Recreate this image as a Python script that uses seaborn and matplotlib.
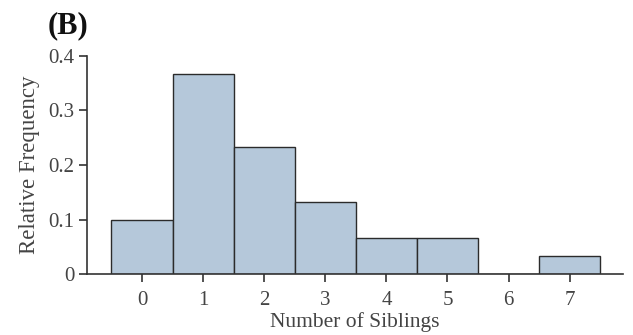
import matplotlib
matplotlib.use("Agg")
import matplotlib.pyplot as plt
import numpy as np
import pandas as pd
import seaborn as sns

# number of siblings and relative frequency (30 students)
siblings = [0, 1, 2, 3, 4, 5, 6, 7]
rel_freq = [0.100, 0.367, 0.233, 0.133, 0.067, 0.067, 0.0, 0.033]
y_ticks = [0, 0.1, 0.2, 0.3, 0.4]
y_tick_labels = ["0", "0.1", "0.2", "0.3", "0.4"]

sns.set_style("ticks")
plt.rcParams['font.family'] = ['Liberation Serif', 'DejaVu Serif']

df = pd.DataFrame({"siblings": siblings, "rel_freq": rel_freq})

fig = plt.figure(figsize=(6.33, 3.35), dpi=100)
ax = fig.add_axes([0.1374, 0.182, 0.8466, 0.651])

sns.barplot(
    data=df, x="siblings", y="rel_freq",
    width=1.0, color="#b5c8da", saturation=1,
    edgecolor="#2b2b2b", linewidth=1.0, ax=ax
)

ax.set_xlim(-0.9, 7.87)
ax.set_ylim(0, 0.4)
ax.set_yticks(y_ticks)
ax.set_yticklabels(y_tick_labels)

sns.despine(ax=ax)
for side in ["left", "bottom"]:
    ax.spines[side].set_color("#333333")
    ax.spines[side].set_linewidth(1.2)

ax.tick_params(axis="both", colors="#333333", labelcolor="#444444",
               labelsize=15, length=6, width=1.2, direction="out")
ax.tick_params(axis="x", pad=6)
ax.tick_params(axis="y", pad=3)

ax.set_xlabel("Number of Siblings", fontsize=15.5, color="#444444", labelpad=2)
ax.set_ylabel("Relative Frequency", fontsize=16.5, color="#444444", labelpad=6)

# panel label
fig.text(0.107, 0.968, "(B)", fontsize=22, fontweight="bold", color="#111111",
         ha="center", va="top")

fig.savefig("out.png", dpi=100)
